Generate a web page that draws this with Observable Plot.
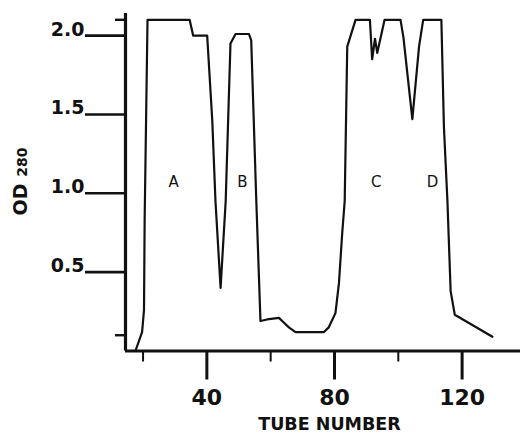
<!DOCTYPE html>
<html>
<head>
<meta charset="utf-8">
<script src="https://cdn.jsdelivr.net/npm/d3@7"></script>
<script src="https://cdn.jsdelivr.net/npm/@observablehq/plot@0.6"></script>
<style>
  html, body { margin: 0; padding: 0; background: #fff; }
  #chart svg { display: block; }
</style>
</head>
<body>
<div id="chart"></div>
<script>
// Elution profile: tube number vs OD 280
const tube = [17.6, 19.7, 20.3, 20.5, 21.4, 34.6, 35.7, 40.1, 41.7, 42.7, 44.3, 45.9, 47.4, 49.0, 53.2, 53.9, 54.7, 55.5, 56.8, 58.9, 62.6, 63.6, 65.7, 67.8, 76.7, 78.2, 80.3, 81.4, 82.4, 83.2, 84.0, 86.6, 91.1, 91.8, 92.7, 93.4, 95.7, 100.7, 101.6, 104.4, 106.5, 107.8, 113.5, 114.3, 115.4, 116.4, 117.7, 129.5];
const od   = [0.00, 0.12, 0.26, 0.83, 2.10, 2.10, 2.00, 2.00, 1.46, 0.95, 0.40, 0.95, 1.95, 2.01, 2.01, 1.97, 1.46, 0.95, 0.19, 0.20, 0.21, 0.19, 0.15, 0.12, 0.12, 0.15, 0.24, 0.43, 0.74, 0.95, 1.93, 2.10, 2.10, 1.85, 1.98, 1.89, 2.10, 2.10, 1.99, 1.47, 1.93, 2.10, 2.10, 1.42, 0.95, 0.38, 0.23, 0.09];

// Peak labels
const peakNames = ["A", "B", "C", "D"];
const peakTube  = [29.6, 51.1, 93.1, 110.7];
const peakOD    = [1.07, 1.07, 1.07, 1.07];

// Axis ticks
const xMajorTicks = [40, 80, 120];
const xMinorTicks = [20, 60, 100];
const yMajorTicks = [0.5, 1.0, 1.5, 2.0];
const yMinorTicks = [0.1, 2.1];

const xLabel = "TUBE NUMBER";
const yLabelMain = "OD ";
const yLabelSub = "280";

const data = tube.map((t, i) => ({tube: t, od: od[i]}));
const peaks = peakNames.map((n, i) => ({name: n, tube: peakTube[i], od: peakOD[i]}));

const xDomain = [14.5, 138.3];
const yDomain = [0, 2.14];

const chart = Plot.plot({
  width: 520,
  height: 433,
  marginLeft: 125,
  marginRight: 0,
  marginTop: 13,
  marginBottom: 82.5,
  style: {fontFamily: "DejaVu Sans", fontWeight: "bold", color: "#111", background: "#fff"},
  x: {domain: xDomain},
  y: {domain: yDomain},
  marks: [
    // y axis: long major ticks, labels sitting on the tick lines
    Plot.axisY(yMajorTicks, {
      tickSize: 40, tickPadding: 1, strokeWidth: 2.6, stroke: "#111",
      tickFormat: d => d.toFixed(1), fontSize: 19, lineAnchor: "bottom", label: null
    }),
    Plot.axisY(yMinorTicks, {tickSize: 10, strokeWidth: 2.4, stroke: "#111", tickFormat: () => "", label: null}),
    // x axis: long major ticks with labels, short minor ticks
    Plot.axisX(xMajorTicks, {
      tickSize: 29, tickPadding: 9, strokeWidth: 3, stroke: "#111",
      tickFormat: d => String(d), fontSize: 22, label: null
    }),
    Plot.axisX(xMinorTicks, {tickSize: 11, strokeWidth: 2, stroke: "#111", tickFormat: () => "", label: null}),
    // axis lines
    Plot.ruleX([xDomain[0]], {stroke: "#111", strokeWidth: 3.2}),
    Plot.ruleY([0], {stroke: "#111", strokeWidth: 3.2}),
    // profile
    Plot.line(data, {x: "tube", y: "od", stroke: "#111", strokeWidth: 2.2, strokeLinejoin: "round"}),
    // peak letters
    Plot.text(peaks, {x: "tube", y: "od", text: "name", fontSize: 15, fontWeight: "normal", fill: "#111"})
  ]
});

const svg = d3.select(chart);
svg.append("text")
  .attr("x", 329.5).attr("y", 430)
  .attr("text-anchor", "middle")
  .attr("font-family", "DejaVu Sans").attr("font-weight", "bold")
  .attr("font-size", 17.5).attr("fill", "#111")
  .text(xLabel);

const yl = svg.append("text")
  .attr("transform", "translate(26.5,181.5) rotate(-90)")
  .attr("text-anchor", "middle")
  .attr("font-family", "DejaVu Sans").attr("font-weight", "bold")
  .attr("fill", "#111");
yl.append("tspan").attr("font-size", 19).text(yLabelMain);
yl.append("tspan").attr("font-size", 14).text(yLabelSub);

document.getElementById("chart").appendChild(chart);
</script>
</body>
</html>
